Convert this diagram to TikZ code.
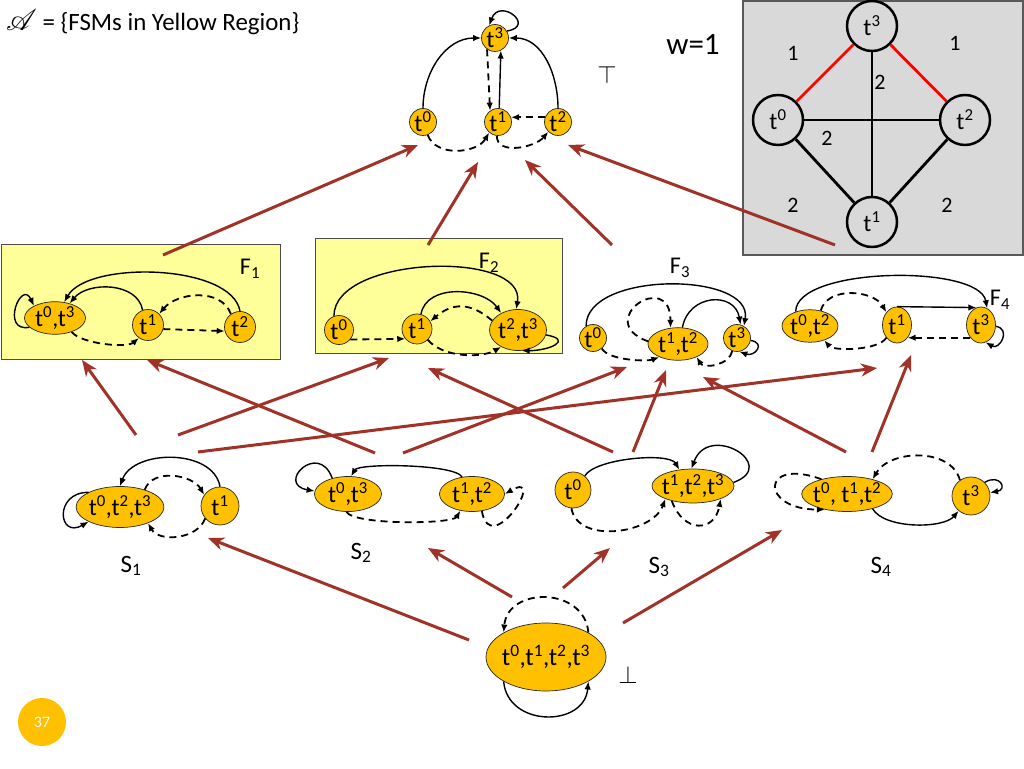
\documentclass[tikz,border=0pt]{standalone}
\usepackage{fontspec}
\setmainfont{Carlito}
\usepackage{amsmath}
\usepackage{mathrsfs}
\usepackage{graphicx}
\usetikzlibrary{positioning,shapes.geometric,arrows.meta}

\definecolor{stategold}{RGB}{255,192,0}
\definecolor{boxyellow}{RGB}{255,255,153}
\definecolor{boxgray}{RGB}{217,217,217}
\definecolor{liftred}{RGB}{160,50,40}

\newcommand{\tsup}[1]{t\textsuperscript{#1}}

\tikzset{
  fsm/.style={circle,draw=black!85,line width=0.7pt,fill=stategold,inner sep=0pt,minimum size=27pt,font=\fontsize{24}{28}\selectfont},
  fsmell/.style={ellipse,draw=black!85,line width=0.7pt,fill=stategold,inner sep=0pt,font=\fontsize{24}{28}\selectfont},
  tr/.style={-{Latex[length=8pt,width=6.5pt]},line width=1.4pt},
  dtr/.style={tr,line width=1.8pt,dash pattern=on 7pt off 5pt},
  lift/.style={-{Stealth[length=16pt,width=13pt,inset=5pt]},line width=3pt,liftred},
  wnode/.style={circle,draw,line width=2.5pt,fill=boxgray,minimum size=50pt,inner sep=0pt,font=\fontsize{24}{28}\selectfont},
  wedge/.style={line width=2.8pt},
  wlbl/.style={font=\fontsize{22}{26}\selectfont},
  flbl/.style={font=\fontsize{24}{28}\selectfont},
  slbl/.style={font=\fontsize{25}{28}\selectfont},
}

\begin{document}
\begin{tikzpicture}[x=1pt,y=1pt]
\useasboundingbox (0,0) rectangle (1024,768);

\node[anchor=west,inner sep=0pt,font=\fontsize{24.88}{28}\selectfont] (head) at (6,746) {\scalebox{1.2}{$\mathscr{A}$} = \{FSMs in Yellow Region\}};

% top element
\node[fsm] (T3) at (495,730) {\tsup{3}};
\node[fsm] (T0) at (423,646) {\tsup{0}};
\node[fsm] (T1) at (498,646) {\tsup{1}};
\node[fsm] (T2) at (558,646) {\tsup{2}};
\node[font=\fontsize{28}{30}\selectfont] (top) at (607,693) {$\top$};
\draw[tr] (T0.north) to[out=90,in=180] (T3.west);
\draw[tr] (T3.30) to[out=10,in=70,distance=30pt] (T3.115);
\draw[dtr] (T3.235) -- (T1.125);
\draw[tr] (T1.85) -- (T3.295);
\draw[tr] (T2.north) to[out=90,in=0] (T3.east);
\draw[dtr] (T2.160) -- (T1.20);
\draw[dtr] (T0.-70) to[out=-70,in=-120] (T1.-130);
\draw[dtr] (T1.-95) to[out=-90,in=-130] (T2.-135);

% weight graph
\draw[fill=boxgray,draw=black!65,line width=1.2pt] (743,767) rectangle (1023,513);
\node[wnode] (G3) at (872,742) {\tsup{3}};
\node[wnode] (G0) at (778,648) {\tsup{0}};
\node[wnode] (G2) at (965,648) {\tsup{2}};
\node[wnode] (G1) at (872,546) {\tsup{1}};
\draw[wedge,red] (G3) -- (G0);
\draw[wedge,red] (G3) -- (G2);
\draw[wedge] (G3) -- (G1);
\draw[wedge] (G0) -- (G2);
\draw[wedge] (G0) -- (G1);
\draw[wedge] (G2) -- (G1);
\node[wlbl] at (793,715) {1};
\node[wlbl] at (955,725) {1};
\node[wlbl] at (880,686) {2};
\node[wlbl] at (827,630) {2};
\node[wlbl] at (793,563) {2};
\node[wlbl] at (947,563) {2};
\node[font=\fontsize{31}{34}\selectfont] (w) at (693,723) {w=1};

% F1
\draw[fill=boxyellow,draw=black!70,line width=1pt] (1,523) rectangle (280,408);
\node[flbl] (F1) at (250,499) {F\textsubscript{1}};
\node[fsmell,minimum width=61pt,minimum height=32pt] (A03) at (55,450) {\tsup{0},\tsup{3}};
\node[fsm,minimum size=31pt] (A1) at (148,443) {\tsup{1}};
\node[fsm,minimum size=31pt] (A2) at (240,441) {\tsup{2}};
\draw[tr] (A03.200) to[out=190,in=115,distance=30pt] (A03.150);
\draw[tr] (A2.north) to[out=100,in=60,looseness=0.7] (A03.60);
\draw[tr] (A1.110) to[out=100,in=50] (A03.45);
\draw[dtr] (A03.-40) to[out=-50,in=-140,looseness=0.6] (A1.-125);
\draw[dtr] (A2.125) to[out=110,in=50] (A1.45);
\draw[dtr] (A1.-15) -- (A2.-165);

% F2
\draw[fill=boxyellow,draw=black!70,line width=1pt] (315,529) rectangle (562,414);
\node[flbl] (F2) at (489,505) {F\textsubscript{2}};
\node[fsm,minimum size=29pt] (B0) at (339,438) {\tsup{0}};
\node[fsm,minimum size=30pt] (B1) at (417,439) {\tsup{1}};
\node[fsmell,minimum width=57pt,minimum height=41pt] (B23) at (518,438) {\tsup{2},\tsup{3}};
\draw[tr] (B0.110) to[out=90,in=80,looseness=0.85] (B23.95);
\draw[tr] (B1.75) to[out=80,in=125] (B23.135);
\draw[dtr] (B23.160) to[out=140,in=40,looseness=1.2] (B1.30);
\draw[dtr] (B0.-40) -- (B1.-140);
\draw[dtr] (B1.-45) to[out=-50,in=-150,looseness=0.8] (B23.-135);
\draw[tr] (B23.-10) to[out=-10,in=0,distance=28pt] (B23.-80);

% F3
\node[flbl] (F3) at (680,500) {F\textsubscript{3}};
\node[fsm] (C0) at (593,430) {\tsup{0}};
\node[fsmell,minimum width=60pt,minimum height=30pt] (C12) at (678,424) {\tsup{1},\tsup{2}};
\node[fsm] (C3) at (737,430) {\tsup{3}};
\draw[tr] (C0.120) to[out=90,in=80,looseness=0.9] (C3.60);
\draw[tr] (C12.75) to[out=80,in=100,looseness=1.5] (C3.75);
\draw[dtr] (C12.175) to[out=160,in=90,distance=60pt] (C12.115);
\draw[dtr] (C0.-50) to[out=-60,in=-160,looseness=0.6] (C12.-145);
\draw[dtr] (C3.-110) to[out=-100,in=-60] (C12.-35);
\draw[tr] (C3.-10) to[out=-10,in=-20,distance=16pt] (C3.-80);

% F4
\node[flbl] (F4) at (1000,468) {F\textsubscript{4}};
\node[fsmell,minimum width=54pt,minimum height=28pt] (D02) at (810,442) {\tsup{0},\tsup{2}};
\node[fsmell,minimum width=29pt,minimum height=36pt] (D1) at (897,443) {\tsup{1}};
\node[fsmell,minimum width=29pt,minimum height=36pt] (D3) at (981,443) {\tsup{3}};
\draw[tr] (D02.135) to[out=90,in=100,looseness=0.6] (D3.70);
\draw[tr] (D1.north) -- (D3.105);
\draw[dtr] (D02.55) to[out=75,in=120] (D1.130);
\draw[dtr] (D1.-130) to[out=-120,in=-50,looseness=0.6] (D02.-45);
\draw[dtr] (D3.-130) -- (D1.-50);
\draw[tr] (D3.-5) to[out=-10,in=-30,distance=16pt] (D3.-75);

% S1
\node[slbl] (S1) at (131,202) {S\textsubscript{1}};
\node[fsmell,minimum width=86pt,minimum height=41pt] (E023) at (120,261) {\tsup{0},\tsup{2},\tsup{3}};
\node[fsm,minimum size=38pt] (E1) at (220,262) {\tsup{1}};
\draw[tr] (E023.155) to[out=180,in=210,distance=35pt] (E023.205);
\draw[tr] (E1.north) to[out=100,in=70] (E023.north);
\draw[dtr] (E023.35) to[out=70,in=120] (E1.145);
\draw[dtr] (E1.-140) to[out=-110,in=-60] (E023.-30);

% S2
\node[slbl] (S2) at (361,215) {S\textsubscript{2}};
\node[fsmell,minimum width=67pt,minimum height=35pt] (H03) at (348,274) {\tsup{0},\tsup{3}};
\node[fsmell,minimum width=65pt,minimum height=35pt] (H12) at (472,274) {\tsup{1},\tsup{2}};
\draw[tr] (H03.135) to[out=110,in=170,distance=40pt] (H03.175);
\draw[tr] (H12.120) to[out=120,in=60,looseness=0.35] (H03.80);
\draw[dtr] (H03.-95) to[out=-60,in=-120,looseness=0.35] (H12.-125);
\draw[dtr] (H12.-60) to[out=-80,in=30,distance=50pt] (H12.0);

% S3
\node[slbl] (S3) at (659,201) {S\textsubscript{3}};
\node[fsm,minimum size=36pt] (K0) at (573,278) {\tsup{0}};
\node[fsmell,minimum width=82pt,minimum height=34pt,inner xsep=-4pt] (K123) at (693,282) {\tsup{1},\tsup{2},\tsup{3}};
\draw[tr] (K0.50) to[out=60,in=120,looseness=0.55] (K123.130);
\draw[dtr] (K0.-95) to[out=-80,in=-110] (K123.-155);
\draw[dtr] (K123.-145) to[out=-70,in=-100,looseness=1.8] (K123.-25);
\draw[tr] (K123.5) to[out=20,in=70,distance=50pt] (K123.95);

% S4
\node[slbl] (S4) at (881,201) {S\textsubscript{4}};
\node[fsmell,minimum width=90pt,minimum height=35pt,inner xsep=-2pt] (M012) at (847,274) {\tsup{0}, \tsup{1},\tsup{2}};
\node[fsm,minimum size=38pt] (M3) at (971,272) {\tsup{3}};
\draw[dtr] (M012.150) to[out=160,in=180,distance=65pt] (M012.-145);
\draw[dtr] (M3.125) to[out=105,in=60] (M012.30);
\draw[tr] (M012.-30) to[out=-60,in=-130,looseness=0.7] (M3.-130);
\draw[tr] (M3.45) to[out=30,in=10,distance=18pt] (M3.10);

% bottom element
\node[fsmell,minimum width=120pt,minimum height=68pt,inner xsep=-2pt,font=\fontsize{25}{30}\selectfont] (Bot) at (546,111) {\tsup{0},\tsup{1},\tsup{2},\tsup{3}};
\node[font=\fontsize{28}{30}\selectfont] (bot) at (628,93) {$\bot$};
\draw[dtr] (Bot.30) to[out=95,in=85,looseness=1.4] (Bot.150);
\draw[tr] (Bot.-150) to[out=-85,in=-95,looseness=1.4] (Bot.-30);

% page number
\node[circle,fill=stategold,minimum size=48pt,text=white,font=\fontsize{16}{18}\selectfont] (page) at (42,46) {37};

% refinement arrows
\foreach \n/\x/\y in {f1up/163/513, top0/418/623, f2up/428/523, top1/478/606,
    f3up/612/523, top2/525/608, f4up/835/523, top3/568/623,
    s1a/136/333, f1a/82/408, s2a/375/315, f1b/147/408, s1b/178/333, f2a/389/410,
    s1c/198/316, f4a/877/400, s2b/403/315, f3a/627/401, s3a/613/316, f2b/428/400,
    s3b/633/316, f3b/666/398, s4a/846/316, f3c/703/391, s4b/872/316, f4b/911/413,
    b1/469/128, s1d/208/230, b2/512/171, s2c/428/220, b3/563/180, s3c/610/220,
    b4/623/145, s4c/782/238} {
    \coordinate (\n) at (\x,\y);
}
\foreach \a/\b in {f1up/top0, f2up/top1, f3up/top2, f4up/top3,
    s1a/f1a, s2a/f1b, s1b/f2a, s1c/f4a, s2b/f3a, s3a/f2b, s3b/f3b, s4a/f3c, s4b/f4b,
    b1/s1d, b2/s2c, b3/s3c, b4/s4c} {
    \draw[lift] (\a) -- (\b);
}
\end{tikzpicture}
\end{document}
